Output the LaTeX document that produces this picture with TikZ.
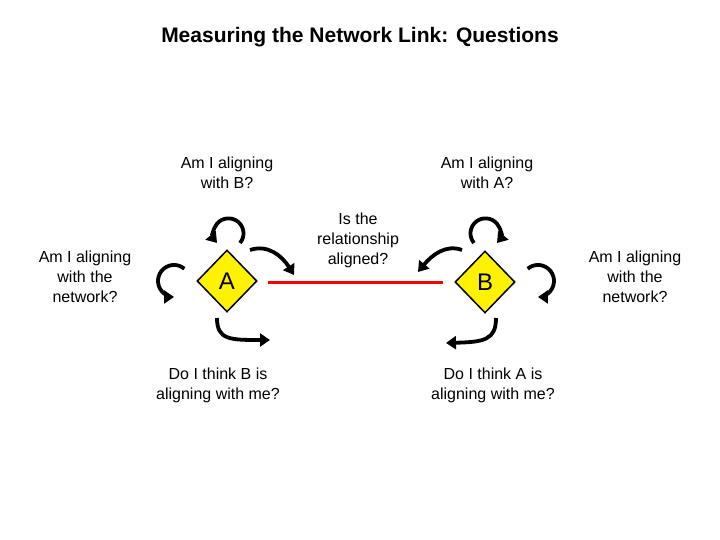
\documentclass[tikz,border=0pt]{standalone}
\usepackage{fontspec}
\setmainfont{Liberation Sans}
\usetikzlibrary{shapes.geometric,arrows.meta}
\begin{document}
\begin{tikzpicture}[x=1pt,y=-1pt,
  lbl/.style={align=center,font=\fontsize{16}{20}\selectfont},
  dia/.style={diamond,draw=black,line width=1.5pt,fill=yellow,minimum width=60pt,minimum height=62pt,inner sep=0pt,font=\fontsize{24}{24}\selectfont},
  arr/.style={line width=3.8pt,-{Triangle[length=10pt,width=13pt]}}]
\useasboundingbox (0,0) rectangle (720,540);
\node[font=\bfseries\fontsize{21}{24}\selectfont] (t) at (360,37) {Measuring the Network Link: Questions};
\node[dia] (A) at (227,281) {A};
\node[dia] (B) at (485,282) {B};
\draw[red,line width=3pt] (268,282) -- (443,282);
\node[lbl] (l1) at (227,173) {Am I aligning\\with B?};
\node[lbl] (l2) at (487,173) {Am I aligning\\with A?};
\node[lbl] (l3) at (358,240) {Is the\\relationship\\aligned?};
\node[lbl] (l4) at (85,277) {Am I aligning\\with the\\network?};
\node[lbl] (l5) at (635,277) {Am I aligning\\with the\\network?};
\node[lbl] (l6) at (218,385) {Do I think B is\\aligning with me?};
\node[lbl] (l7) at (493,385) {Do I think A is\\aligning with me?};
% A loops
\draw[arr] (240,243) arc (40:-220:15);
\draw[arr] (184.3,268.7) arc (-50:-270:16);
\draw[arr] (250,250) .. controls (268,244) and (282,256) .. (294,275);
\draw[arr] (217,318) .. controls (217,340) and (230,340) .. (270,340);
% B loops
\draw[arr] (474,243) arc (140:400:15);
\draw[arr] (527.7,268.7) arc (-130:90:16);
\draw[arr] (462,250) .. controls (446,244) and (432,255) .. (418,272);
\draw[arr] (496,318) .. controls (496,340) and (484,342) .. (446,343);
\end{tikzpicture}
\end{document}
